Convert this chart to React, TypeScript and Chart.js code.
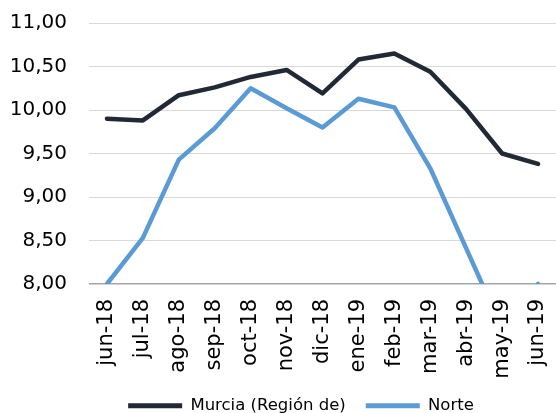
import React, { useEffect, useRef } from "react";
import { Chart, registerables } from "chart.js";

Chart.register(...registerables);

const categories = ["jun-18", "jul-18", "ago-18", "sep-18", "oct-18", "nov-18", "dic-18", "ene-19", "feb-19", "mar-19", "abr-19", "may-19", "jun-19"];
const murcia = [9.9, 9.88, 10.17, 10.26, 10.38, 10.46, 10.19, 10.58, 10.65, 10.44, 10.01, 9.5, 9.38];
const norte = [8.0, 8.53, 9.43, 9.79, 10.25, 10.02, 9.8, 10.13, 10.03, 9.33, 8.41, 7.49, 8.0];
const seriesNames = ["Murcia (Región de)", "Norte"];
const seriesColors = ["#212934", "#5b9bd5"];

const W = 556;
const H = 424;
const FONT = "'DejaVu Sans', sans-serif";

const legendShift = {
  id: "legendShift",
  afterLayout(chart: any) {
    const lg = chart.legend;
    if (lg) {
      lg.left += 23;
      lg.right += 23;
    }
  },
};

export default function App() {
  const ref = useRef<HTMLCanvasElement | null>(null);

  useEffect(() => {
    if (!ref.current) return;
    const chart = new Chart(ref.current, {
      type: "line",
      data: {
        labels: categories,
        datasets: [murcia, norte].map((d, i) => ({
          label: seriesNames[i],
          data: d,
          borderColor: seriesColors[i],
          backgroundColor: seriesColors[i],
          borderWidth: 4.5,
          pointRadius: 0,
          tension: 0,
          borderCapStyle: "round" as const,
          borderJoinStyle: "round" as const,
          clip: { left: 5, top: 5, right: 5, bottom: 0 } as any,
        })),
      },
      plugins: [legendShift],
      options: {
        responsive: false,
        animation: false,
        layout: { padding: { top: 23, left: 0, right: 0, bottom: 0 } },
        plugins: {
          tooltip: { enabled: false },
          legend: {
            position: "bottom",
            labels: {
              boxWidth: 54,
              boxHeight: 5,
              padding: 20,
              color: "#000000",
              font: { family: FONT, size: 16.5 },
              generateLabels: (c: any) =>
                Chart.defaults.plugins.legend.labels.generateLabels(c).map((it: any) => ({
                  ...it,
                  fillStyle: it.strokeStyle,
                  lineWidth: 0,
                })),
            },
          },
        },
        scales: {
          x: {
            offset: true,
            grid: { display: false, drawTicks: false },
            border: { display: false },
            ticks: {
              minRotation: 90,
              maxRotation: 90,
              autoSkip: false,
              padding: 15,
              color: "#000000",
              font: { family: FONT, size: 21 },
            },
            afterFit: (s: any) => {
              s.height = 93.5;
              s.paddingLeft = 0;
              s.paddingRight = 0;
            },
          },
          y: {
            min: 8,
            max: 11,
            grid: {
              drawTicks: false,
              color: (ctx: any) => (ctx.tick && ctx.tick.value === 8 ? "#a6a6a6" : "#d9d9d9"),
              lineWidth: (ctx: any) => (ctx.tick && ctx.tick.value === 8 ? 1.5 : 1),
            },
            border: { display: false },
            ticks: {
              stepSize: 0.5,
              padding: 22,
              color: "#000000",
              font: { family: FONT, size: 20 },
              callback: (v: any) => Number(v).toFixed(2).replace(".", ","),
            },
            afterFit: (s: any) => {
              s.width = 89;
              s.paddingTop = 0;
              s.paddingBottom = 0;
            },
          },
        },
      },
    });
    return () => chart.destroy();
  }, []);

  return (
    <div style={{ position: "fixed", left: 0, top: 0, width: W, height: 413, overflow: "hidden", background: "#fff" }}>
      <canvas ref={ref} width={W} height={H} style={{ display: "block", width: W, height: H }} />
    </div>
  );
}
